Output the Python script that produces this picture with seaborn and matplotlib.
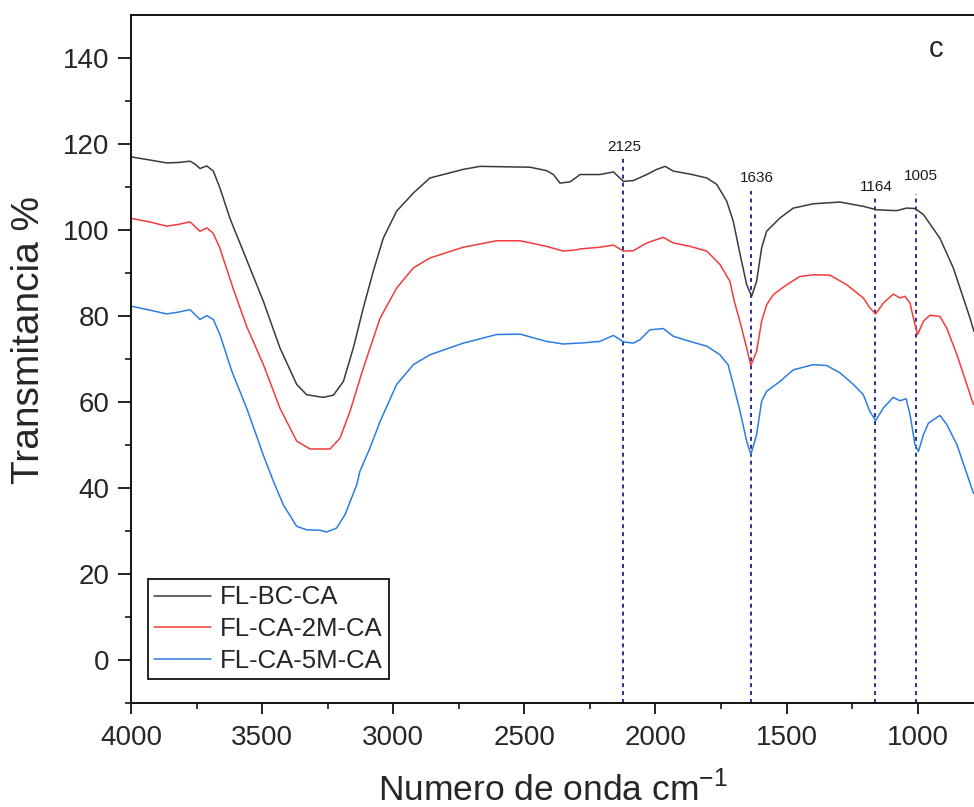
import numpy as np
import pandas as pd
import matplotlib
matplotlib.use("Agg")
import matplotlib.pyplot as plt
import seaborn as sns

# FTIR transmittance spectra (wavenumber in cm-1, transmittance in %)
wn_bc = [4000, 3930, 3864, 3820, 3775, 3755, 3737, 3711, 3686, 3661, 3622, 3559,
         3495, 3432, 3368, 3330, 3267, 3228, 3190, 3152, 3114, 3076, 3038, 2987,
         2923, 2860, 2733, 2669, 2478, 2415, 2389, 2364, 2326, 2300, 2288, 2212,
         2160, 2122, 2084, 2033, 1995, 1963, 1932, 1868, 1804, 1766, 1728, 1703,
         1677, 1652, 1633, 1614, 1595, 1576, 1525, 1474, 1398, 1296, 1207, 1156,
         1080, 1042, 1010, 978, 915, 864, 800, 785]
t_bc = [116.9, 116.2, 115.5, 115.6, 115.9, 115.2, 114.2, 114.8, 113.6, 109.7, 102.5, 93.0,
        83.3, 72.5, 64.0, 61.6, 61.0, 61.5, 64.7, 72.5, 81.8, 90.3, 98.0, 104.3,
        108.5, 112.0, 114.0, 114.7, 114.5, 113.7, 112.8, 110.8, 111.1, 112.2, 112.8, 112.8,
        113.4, 111.2, 111.4, 112.8, 114.0, 114.7, 113.6, 112.9, 112.0, 110.5, 106.6, 101.9,
        94.2, 87.2, 84.5, 88.0, 95.7, 99.6, 102.7, 105.0, 106.0, 106.4, 105.4, 104.6,
        104.4, 105.0, 104.9, 103.5, 98.0, 91.1, 79.4, 76.3]

wn_2m = [4000, 3930, 3864, 3820, 3775, 3737, 3711, 3687, 3661, 3611, 3559, 3495,
         3432, 3368, 3317, 3241, 3203, 3165, 3114, 3050, 2987, 2923, 2860, 2733,
         2606, 2516, 2415, 2351, 2300, 2288, 2212, 2160, 2122, 2084, 2033, 1970,
         1932, 1868, 1804, 1754, 1716, 1700, 1677, 1652, 1636, 1614, 1595, 1576,
         1550, 1499, 1449, 1398, 1334, 1271, 1207, 1182, 1160, 1131, 1093, 1067,
         1048, 1029, 1016, 1000, 978, 953, 915, 889, 850, 787]
t_2m = [102.6, 101.8, 100.8, 101.2, 101.8, 99.6, 100.4, 99.2, 95.7, 86.4, 77.5, 68.6,
        58.5, 50.8, 49.0, 49.0, 51.5, 57.7, 67.8, 79.4, 86.4, 91.1, 93.4, 95.9,
        97.4, 97.4, 96.1, 95.0, 95.3, 95.5, 95.9, 96.4, 95.0, 95.1, 96.9, 98.2,
        96.9, 96.1, 95.0, 91.9, 88.0, 83.5, 78.5, 72.5, 68.4, 71.7, 78.7, 82.5,
        84.9, 87.2, 89.1, 89.5, 89.4, 87.2, 84.1, 81.8, 80.4, 82.9, 85.0, 84.1,
        84.5, 82.9, 79.4, 75.6, 78.7, 80.1, 79.8, 77.1, 70.9, 59.3]

wn_5m = [4000, 3930, 3864, 3820, 3775, 3737, 3711, 3686, 3661, 3615, 3559, 3514,
         3495, 3457, 3419, 3368, 3330, 3279, 3254, 3216, 3184, 3139, 3127, 3089,
         3050, 2987, 2923, 2860, 2733, 2606, 2516, 2415, 2351, 2300, 2288, 2212,
         2160, 2122, 2084, 2059, 2021, 1970, 1932, 1868, 1804, 1754, 1723, 1703,
         1677, 1652, 1636, 1614, 1595, 1576, 1525, 1474, 1398, 1347, 1296, 1245,
         1207, 1182, 1160, 1131, 1093, 1067, 1044, 1029, 1010, 997, 978, 959,
         915, 889, 850, 787]
t_5m = [82.2, 81.3, 80.4, 80.8, 81.4, 79.1, 80.0, 79.1, 75.6, 67.0, 58.5, 50.8,
        47.5, 41.5, 36.0, 31.0, 30.2, 30.1, 29.7, 30.6, 33.7, 40.7, 43.8, 49.2,
        55.4, 64.0, 68.6, 70.9, 73.6, 75.6, 75.7, 74.0, 73.4, 73.6, 73.6, 74.0,
        75.4, 73.9, 73.6, 74.4, 76.7, 77.0, 75.2, 74.0, 72.9, 70.9, 68.6, 64.0,
        57.7, 50.8, 47.7, 52.3, 60.1, 62.4, 64.7, 67.4, 68.6, 68.4, 66.7, 64.0,
        61.6, 57.7, 55.6, 58.5, 61.0, 60.2, 60.7, 57.0, 50.0, 48.4, 52.3, 55.0,
        56.8, 54.7, 50.0, 38.7]

samples = ["FL-BC-CA", "FL-CA-2M-CA", "FL-CA-5M-CA"]
colors = ["#3a3a3a", "#f23c3c", "#2c7de3"]

# Marked band positions and the height where each guide line starts
peaks = [2125, 1636, 1164, 1005]
peak_tops = [116.6, 108.9, 107.3, 108.3]

x_ticks = [4000, 3500, 3000, 2500, 2000, 1500, 1000]
y_ticks = [0, 20, 40, 60, 80, 100, 120, 140]

df = pd.concat([
    pd.DataFrame({"wn": wn_bc, "T": t_bc, "sample": samples[0]}),
    pd.DataFrame({"wn": wn_2m, "T": t_2m, "sample": samples[1]}),
    pd.DataFrame({"wn": wn_5m, "T": t_5m, "sample": samples[2]}),
], ignore_index=True)

sns.set_style("ticks")
plt.rcParams["font.family"] = ["Liberation Sans", "DejaVu Sans"]
plt.rcParams["mathtext.fontset"] = "custom"
plt.rcParams["mathtext.rm"] = "Liberation Sans"

fig = plt.figure(figsize=(9.74, 8.07), dpi=100)
ax = fig.add_axes([0.1345, 0.1292, 0.8655, 0.8528])

sns.lineplot(data=df, x="wn", y="T", hue="sample", hue_order=samples,
             palette=colors, estimator=None, sort=True, linewidth=1.1,
             legend=False, ax=ax)

ax.vlines(peaks, -10, peak_tops, colors="#1c1c8c", linestyles=(0, (2.2, 2.2)),
          linewidth=1.3, zorder=1)
label_offsets = [(1.5, 8), (4.5, 9.5), (1, 8), (3.5, 13)]
for p, top, off in zip(peaks, peak_tops, label_offsets):
    ax.annotate(str(p), xy=(p, top), xytext=off, textcoords="offset points",
                ha="center", va="center", fontsize=11, color="#1a1a1a")

ax.set_xlim(4000, 785)
ax.set_ylim(-10, 150)
ax.set_xticks(x_ticks)
ax.set_yticks(y_ticks)
ax.set_xticks(np.arange(3750, 785, -500), minor=True)
ax.set_yticks(np.arange(-10, 150, 20), minor=True)

ax.tick_params(axis="both", which="major", labelsize=20, width=1.3, color="#111111")
ax.tick_params(axis="y", which="major", length=9.5, pad=6)
ax.tick_params(axis="y", which="minor", length=4.5, width=1.3)
ax.tick_params(axis="x", which="major", length=8, pad=8)
ax.tick_params(axis="x", which="minor", length=4, width=1.3)

for side in ["left", "bottom", "top"]:
    ax.spines[side].set_linewidth(1.4)
    ax.spines[side].set_color("#111111")
ax.spines["right"].set_visible(False)

ax.set_xlabel("Numero de onda cm$^{\\mathregular{-1}}$", fontsize=25.5, labelpad=14)
ax.set_ylabel("Transmitancia %", fontsize=28)
ax.yaxis.set_label_coords(-0.100, 0.527)

ax.text(0.955, 0.95, "c", transform=ax.transAxes, fontsize=21,
        ha="center", va="center")

leg = ax.legend(handles=ax.lines[:3], labels=samples, loc="lower left",
                bbox_to_anchor=(0.020, 0.034), borderaxespad=0, fontsize=18.5,
                frameon=True, fancybox=False, framealpha=1, edgecolor="#111111",
                handlelength=2.2, handletextpad=0.35, labelspacing=0.3,
                borderpad=0.25)
leg.get_frame().set_linewidth(1.3)

fig.savefig("out.png", dpi=100)
